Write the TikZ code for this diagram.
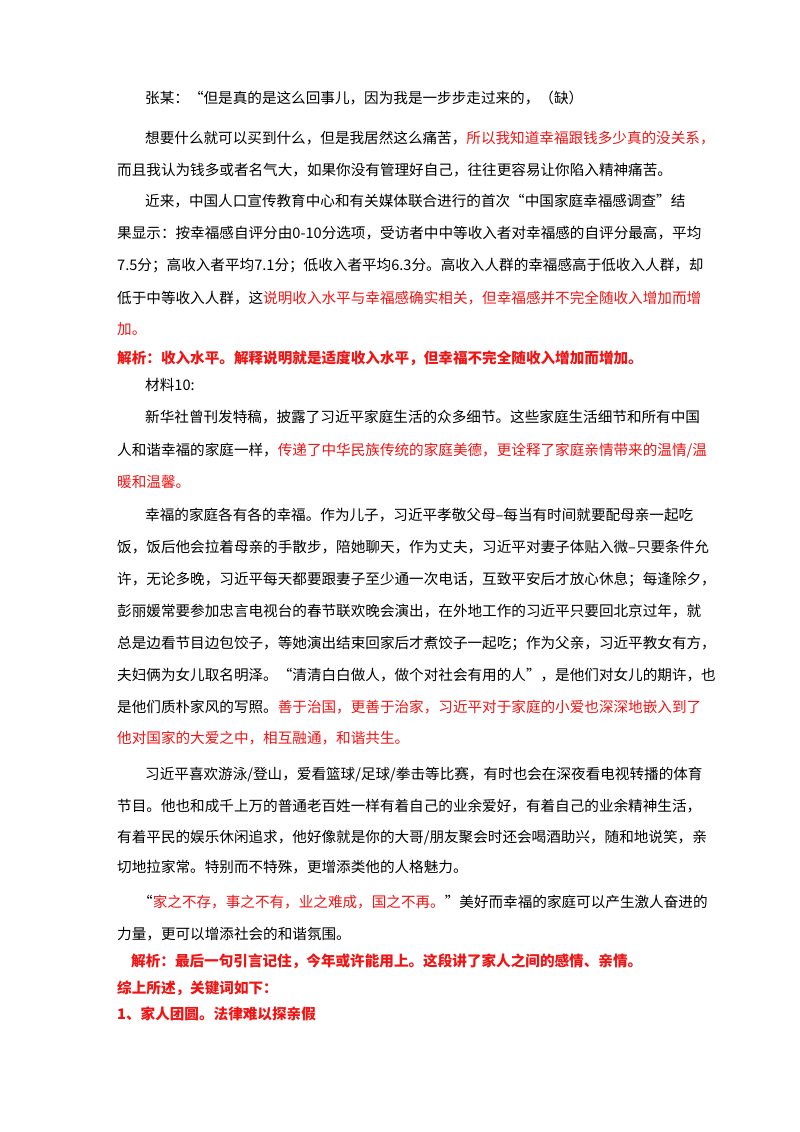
\documentclass[tikz,border=0pt]{standalone}
\usepackage{fontspec}
\setmainfont{Noto Sans CJK SC}
\definecolor{rd}{RGB}{240,20,20}
\tikzset{ln/.style={anchor=base west,inner sep=0pt,font=\fontsize{14.6}{16}\selectfont}}
\newcommand{\R}[1]{\textcolor{rd}{#1}}
\begin{document}
\begin{tikzpicture}[x=1pt,y=-1pt]
\useasboundingbox[fill=white] (0,0) rectangle (800,1132);
\node[ln] (l1) at (145,103) {张某：“但是真的是这么回事儿，因为我是一步步走过来的，（缺）};
\node[ln] (l2) at (145,143) {想要什么就可以买到什么，但是我居然这么痛苦，\R{所以我知道幸福跟钱多少真的没关系，}};
\node[ln] (l3) at (117,175) {而且我认为钱多或者名气大，如果你没有管理好自己，往往更容易让你陷入精神痛苦。};
\node[ln] (l4) at (145,206) {近来，中国人口宣传教育中心和有关媒体联合进行的首次“中国家庭幸福感调查”结};
\node[ln] (l5) at (117,238) {果显示：按幸福感自评分由0-10分选项，受访者中中等收入者对幸福感的自评分最高，平均};
\node[ln] (l6) at (117,270) {7.5分；高收入者平均7.1分；低收入者平均6.3分。高收入人群的幸福感高于低收入人群，却};
\node[ln] (l7) at (117,303) {低于中等收入人群，这\R{说明收入水平与幸福感确实相关，但幸福感并不完全随收入增加而增}};
\node[ln] (l8) at (117,334) {\R{加。}};
\node[ln,font=\fontsize{14.6}{16}\selectfont\bfseries,text=rd] (l9) at (117,363) {解析：收入水平。解释说明就是适度收入水平，但幸福不完全随收入增加而增加。};
\node[ln] (l10) at (145,390) {材料10:};
\node[ln] (l11) at (145,422) {新华社曾刊发特稿，披露了习近平家庭生活的众多细节。这些家庭生活细节和所有中国};
\node[ln] (l12) at (117,455) {人和谐幸福的家庭一样，\R{传递了中华民族传统的家庭美德，更诠释了家庭亲情带来的温情/温}};
\node[ln] (l13) at (117,487) {\R{暖和温馨。}};
\node[ln] (l14) at (145,520) {幸福的家庭各有各的幸福。作为儿子，习近平孝敬父母--每当有时间就要配母亲一起吃};
\node[ln] (l15) at (117,552) {饭，饭后他会拉着母亲的手散步，陪她聊天，作为丈夫，习近平对妻子体贴入微--只要条件允};
\node[ln] (l16) at (117,584) {许，无论多晚，习近平每天都要跟妻子至少通一次电话，互致平安后才放心休息；每逢除夕，};
\node[ln] (l17) at (117,616) {彭丽媛常要参加忠言电视台的春节联欢晚会演出，在外地工作的习近平只要回北京过年，就};
\node[ln] (l18) at (117,648) {总是边看节目边包饺子，等她演出结束回家后才煮饺子一起吃；作为父亲，习近平教女有方，};
\node[ln] (l19) at (117,680) {夫妇俩为女儿取名明泽。“清清白白做人，做个对社会有用的人”，是他们对女儿的期许，也};
\node[ln] (l20) at (117,712) {是他们质朴家风的写照。\R{善于治国，更善于治家，习近平对于家庭的小爱也深深地嵌入到了}};
\node[ln] (l21) at (117,743) {\R{他对国家的大爱之中，相互融通，和谐共生。}};
\node[ln] (l22) at (145,779) {习近平喜欢游泳/登山，爱看篮球/足球/拳击等比赛，有时也会在深夜看电视转播的体育};
\node[ln] (l23) at (117,811) {节目。他也和成千上万的普通老百姓一样有着自己的业余爱好，有着自己的业余精神生活，};
\node[ln] (l24) at (117,842) {有着平民的娱乐休闲追求，他好像就是你的大哥/朋友聚会时还会喝酒助兴，随和地说笑，亲};
\node[ln] (l25) at (117,872) {切地拉家常。特别而不特殊，更增添类他的人格魅力。};
\node[ln] (l26) at (138,907) {“\R{家之不存，事之不有，业之难成，国之不再。}”美好而幸福的家庭可以产生激人奋进的};
\node[ln] (l27) at (117,939) {力量，更可以增添社会的和谐氛围。};
\node[ln,font=\fontsize{14.6}{16}\selectfont\bfseries,text=rd] (l28) at (131,966) {解析：最后一句引言记住，今年或许能用上。这段讲了家人之间的感情、亲情。};
\node[ln,font=\fontsize{14.6}{16}\selectfont\bfseries,text=rd] (l29) at (117,993) {综上所述，关键词如下：};
\node[ln,font=\fontsize{14.6}{16}\selectfont\bfseries,text=rd] (l30) at (117,1019) {1、家人团圆。法律难以探亲假};
\end{tikzpicture}
\end{document}
